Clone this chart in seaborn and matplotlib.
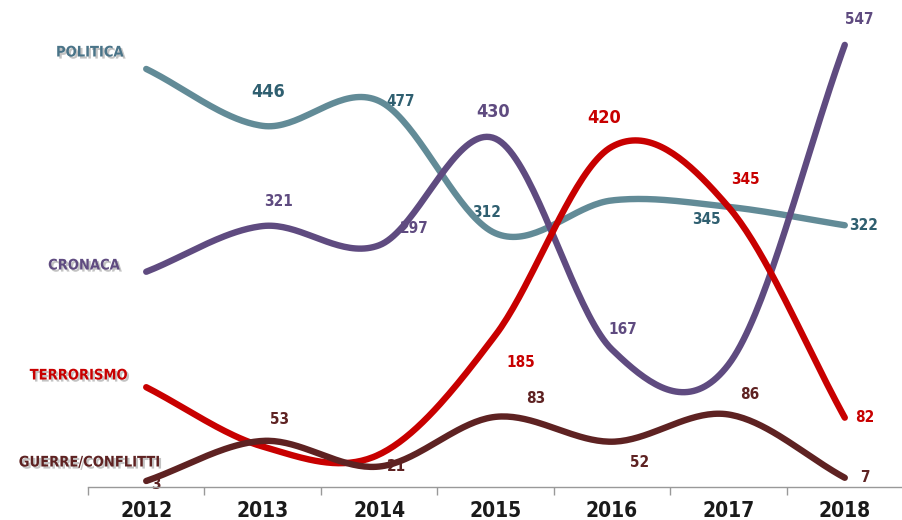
import numpy as np
import pandas as pd
import matplotlib
matplotlib.use('Agg')
import matplotlib.pyplot as plt
import matplotlib.patheffects as pe
from matplotlib import font_manager
import seaborn as sns

# Data
years = ['2012', '2013', '2014', '2015', '2016', '2017', '2018']
politica = [517, 446, 477, 312, 353, 345, 322]
cronaca = [264, 321, 297, 430, 167, 148, 547]
terrorismo = [120, 46, 36, 185, 420, 345, 82]
guerre = [3, 53, 21, 83, 52, 86, 7]

series_names = ['POLITICA', 'CRONACA', 'TERRORISMO', 'GUERRE/CONFLITTI']
series_values = [politica, cronaca, terrorismo, guerre]
line_colors = ['#628b97', '#5f4b80', '#c80000', '#5e2222']
text_colors = ['#2f5f70', '#5f4b80', '#c80000', '#5e2222']
name_colors = ['#4a7488', '#5f4b80', '#c80000', '#5e2222']

# which labels are shown (None = hidden) and where (offset in px)
label_offsets = {
    'POLITICA': [None, (5, 34), (22, 0), (-9, 21), None, (-22, -13), (19, 0)],
    'CRONACA': [None, (16, 25), (35, 17), (-2, 27), (11, 20), None, (14, 25)],
    'TERRORISMO': [None, None, None, (25, -27), (-8, 29), (17, 27), (20, 0)],
    'GUERRE/CONFLITTI': [(10, -4), (17, 21), (17, 0), (40, 18), (28, -21), (21, 20), (20, 0)],
}
big_labels = {('POLITICA', 1), ('CRONACA', 3), ('TERRORISMO', 4)}


def smooth(vals, n=40):
    # cardinal (Catmull-Rom) curve through the points, used only to draw the line
    y = np.asarray(vals, dtype=float)
    k = len(y)
    m = np.empty(k)
    m[1:-1] = (y[2:] - y[:-2]) / 2
    m[0] = y[1] - y[0]
    m[-1] = y[-1] - y[-2]
    xs, ys = [], []
    for i in range(k - 1):
        t = np.linspace(0, 1, n, endpoint=(i == k - 2))
        h00 = 2 * t**3 - 3 * t**2 + 1
        h10 = t**3 - 2 * t**2 + t
        h01 = -2 * t**3 + 3 * t**2
        h11 = t**3 - t**2
        xs.append(i + t)
        ys.append(h00 * y[i] + h10 * m[i] + h01 * y[i + 1] + h11 * m[i + 1])
    return np.concatenate(xs), np.concatenate(ys)


frames = []
for name, vals in zip(series_names, series_values):
    sx, sy = smooth(vals)
    frames.append(pd.DataFrame({'x': sx, 'y': sy, 'serie': name}))
curves = pd.concat(frames, ignore_index=True)

sns.set_theme(style='white')
names = {f.name for f in font_manager.fontManager.ttflist}
font = 'Liberation Sans Narrow' if 'Liberation Sans Narrow' in names else 'DejaVu Sans'
plt.rcParams['font.family'] = [font, 'DejaVu Sans']
plt.rcParams['font.stretch'] = 'condensed'

fig = plt.figure(figsize=(9.03, 5.20), dpi=100)
ax = fig.add_axes([88 / 903, 33 / 520, 1 - 88 / 903, 487 / 520])

sns.lineplot(data=curves, x='x', y='y', hue='serie', palette=dict(zip(series_names, line_colors)),
             linewidth=4.6, legend=False, sort=False, estimator=None, ax=ax,
             solid_capstyle='round')

ax.set_xlim(-0.5, 6.4)
ax.set_ylim(-4.5, 603)

# value labels
for name, vals, tc in zip(series_names, series_values, text_colors):
    for i, v in enumerate(vals):
        off = label_offsets[name][i]
        if off is None:
            continue
        size = 13 if (name, i) in big_labels else 11
        ax.annotate(str(v), (i, v), xytext=(off[0] * 0.72, off[1] * 0.72), textcoords='offset points',
                    ha='center', va='center', fontsize=size, fontweight='bold', color=tc, zorder=1)

# series names on the left
name_pos = [(90, 52), (84, 265), (79, 375), (90, 462)]
for name, nc, (px, py) in zip(series_names, name_colors, name_pos):
    fig.text(px / 903, 1 - py / 520, name, ha='center', va='center', fontsize=10.5,
             fontweight='bold', color=nc,
             path_effects=[pe.withSimplePatchShadow(offset=(1.5, -1.5), shadow_rgbFace='#888888', alpha=0.5)])

# axes
for side in ['left', 'top', 'right']:
    ax.spines[side].set_visible(False)
ax.spines['bottom'].set_color('#999999')
ax.spines['bottom'].set_linewidth(1)
ax.set_yticks([])
ax.set_xticks(np.arange(-0.5, 7, 1))
ax.set_xticklabels([])
ax.tick_params(axis='x', which='major', direction='out', length=6, width=1, color='#999999', bottom=True)
ax.set_xticks(range(len(years)), minor=True)
ax.set_xticklabels(years, minor=True, fontsize=15, fontweight='bold', color='#1a1a1a')
ax.tick_params(axis='x', which='minor', length=0, pad=10)
ax.set_xlabel('')
ax.set_ylabel('')

fig.savefig('out.png', dpi=100)
